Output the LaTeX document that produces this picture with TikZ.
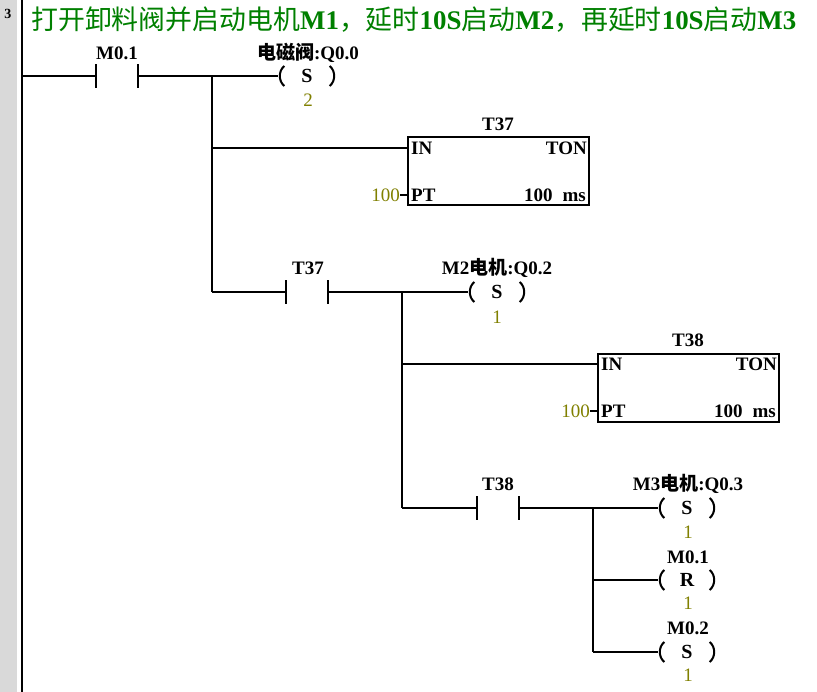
\documentclass[tikz,border=0pt]{standalone}
\usepackage{fontspec}
\setmainfont{Liberation Serif}
\newfontfamily\cjk{Noto Sans CJK SC}
\definecolor{titlegreen}{RGB}{0,128,0}
\definecolor{olivenum}{RGB}{128,128,0}
\begin{document}
\begin{tikzpicture}[x=1pt,y=-1pt,
  wire/.style={line width=2pt},
  lbl/.style={font=\fontsize{19}{19}\selectfont\bfseries, inner sep=0pt},
  boxtxt/.style={font=\fontsize{19}{19}\selectfont\bfseries, inner sep=0pt},
  num/.style={font=\fontsize{19}{19}\selectfont, text=olivenum, inner sep=0pt},
  contact/.style={minimum width=41pt, minimum height=23pt, inner sep=0pt},
  coil/.style={minimum width=57pt, minimum height=20pt, inner sep=0pt, font=\fontsize{20}{20}\selectfont\bfseries},
  tbox/.style={draw, line width=2pt, minimum width=181pt, minimum height=68pt, inner sep=0pt},
  paren/.style={line width=2pt}]
\useasboundingbox (0,0) rectangle (817,692);
\fill[white] (0,0) rectangle (817,692);
% left strip and rail
\fill[gray!30] (0,0) rectangle (17,692);
\node[font=\fontsize{14}{14}\selectfont\bfseries, inner sep=0pt] (netno) at (8,14) {3};
\draw[line width=2.5pt] (22,0) -- (22,692);
% title
\node[anchor=west, text=titlegreen, inner sep=0pt, font=\cjk\fontsize{26.9}{28}\selectfont] (title) at (31,20)
 {打开卸料阀并启动电机{\rmfamily\bfseries M1}，延时{\rmfamily\bfseries 10S}启动{\rmfamily\bfseries M2}，再延时{\rmfamily\bfseries 10S}启动{\rmfamily\bfseries M3}};
% coordinates
\coordinate (r1) at (22,76);
\coordinate (j1) at (212,76);
\coordinate (j1b) at (212,148);
\coordinate (j1c) at (212,292);
\coordinate (j2) at (402,292);
\coordinate (j2b) at (402,364);
\coordinate (j2c) at (402,508);
\coordinate (j3) at (593,508);
\coordinate (j3b) at (593,580);
\coordinate (j3c) at (593,652);
% network 1
\node[contact] (c1) at (117,76) {};
\node[lbl] (c1l) at (117,53) {M0.1};
\node[coil] (q0) at (307,76) {S};
\node[lbl] (q0l) at (308,53) {{\cjk 电磁阀}:Q0.0};
\node[num] (q0n) at (308,100) {2};
% timer T37
\node[tbox] (t37) at (498.5,171) {};
\node[lbl] (t37l) at (498,124) {T37};
\node[lbl, anchor=west] (t37in) at (411,148) {IN};
\node[lbl, anchor=east] (t37ton) at (587,148) {TON};
\node[lbl, anchor=west] (t37pt) at (411,195) {PT};
\node[boxtxt, anchor=east] (t37ms) at (586,195) {100\hspace{10pt}ms};
\node[num, anchor=east] (t37v) at (400,195) {100};
% contact T37 and coil Q0.2
\node[contact] (c2) at (307,292) {};
\node[lbl] (c2l) at (308,268) {T37};
\node[coil] (q2) at (497,292) {S};
\node[lbl] (q2l) at (497,268) {M2{\cjk 电机}:Q0.2};
\node[num] (q2n) at (497,317) {1};
% timer T38
\node[tbox] (t38) at (688,388) {};
\node[lbl] (t38l) at (688,340) {T38};
\node[lbl, anchor=west] (t38in) at (601,364) {IN};
\node[lbl, anchor=east] (t38ton) at (777,364) {TON};
\node[lbl, anchor=west] (t38pt) at (601,411) {PT};
\node[boxtxt, anchor=east] (t38ms) at (776,411) {100\hspace{10pt}ms};
\node[num, anchor=east] (t38v) at (590,411) {100};
% contact T38 and coils
\node[contact] (c3) at (498,508) {};
\node[lbl] (c3l) at (498,484) {T38};
\node[coil] (q3) at (687,508) {S};
\node[lbl] (q3l) at (688,484) {M3{\cjk 电机}:Q0.3};
\node[num] (q3n) at (688,532) {1};
\node[coil] (m1) at (687,580) {R};
\node[lbl] (m1l) at (688,557) {M0.1};
\node[num] (m1n) at (688,603) {1};
\node[coil] (m2) at (687,652) {S};
\node[lbl] (m2l) at (688,628) {M0.2};
\node[num] (m2n) at (688,675) {1};
% contact plates
\foreach \c in {c1,c2,c3}{
  \draw[wire, line width=2.3pt] (\c.north west) -- (\c.south west) (\c.north east) -- (\c.south east);
}
% coil parentheses
\foreach \k in {q0,q2,q3,m1,m2}{
  \draw[paren] ([xshift=6pt,yshift=10pt]\k.west) .. controls ([xshift=0pt,yshift=5pt]\k.west) and ([xshift=0pt,yshift=-5pt]\k.west) .. ([xshift=6pt,yshift=-10pt]\k.west);
  \draw[paren] ([xshift=-6pt,yshift=10pt]\k.east) .. controls ([xshift=0pt,yshift=5pt]\k.east) and ([xshift=0pt,yshift=-5pt]\k.east) .. ([xshift=-6pt,yshift=-10pt]\k.east);
}
% wires
\draw[wire] (r1) -- (c1.west);
\draw[wire] (c1.east) -- (q0.west);
\draw[wire] (j1) -- (j1c);
\draw[wire] (j1b) -- (t37.west |- j1b);
\draw[wire] (t37v.east) -- (t37.west |- t37v);
\draw[wire] (j1c) -- (c2.west);
\draw[wire] (c2.east) -- (q2.west);
\draw[wire] (j2) -- (j2c);
\draw[wire] (j2b) -- (t38.west |- j2b);
\draw[wire] (t38v.east) -- (t38.west |- t38v);
\draw[wire] (j2c) -- (c3.west);
\draw[wire] (c3.east) -- (q3.west);
\draw[wire] (j3) -- (j3c);
\draw[wire] (j3b) -- (m1.west);
\draw[wire] (j3c) -- (m2.west);
\end{tikzpicture}
\end{document}
